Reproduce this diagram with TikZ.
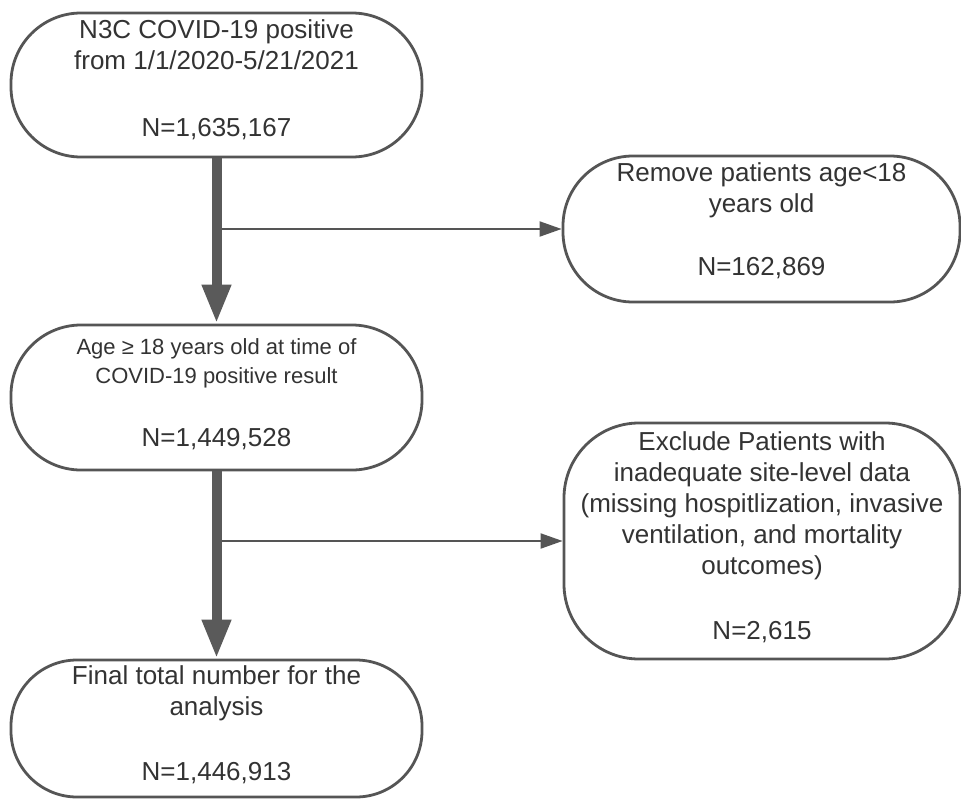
\documentclass[tikz,border=0pt]{standalone}
\usepackage{fontspec}
\setmainfont{Liberation Sans}
\usetikzlibrary{arrows.meta,positioning,calc}
\definecolor{txt}{HTML}{333333}
\definecolor{edge}{HTML}{555555}
\definecolor{flow}{HTML}{5A5A5A}
\begin{document}
\begin{tikzpicture}[x=1pt,y=-1pt,
  box/.style={draw=edge, line width=2.8pt, fill=white, inner sep=0pt},
  boxtext/.style={text=txt, align=center, inner sep=0pt, font=\fontsize{26}{31}\selectfont},
  mainflow/.style={draw=flow, line width=10pt, -{Triangle[length=39pt,width=27pt]}},
  sideflow/.style={draw=edge, line width=2pt, -{Triangle[length=22pt,width=15pt]}}]
\useasboundingbox (0,0) rectangle (961,798);
\fill[white] (0,0) rectangle (961,798);

\node[box, minimum width=411pt, minimum height=144pt, rounded corners=70pt] (b1) at (216.5,85) {};
\node[boxtext] (t1) at (216.5,79.5)
  {N3C COVID-19 positive\\from 1/1/2020-5/21/2021\\[36pt]N=1,635,167};

\node[box, minimum width=397pt, minimum height=146pt, rounded corners=70pt] (b2) at (761.5,229) {};
\node[boxtext] (t2) at (761.5,221)
  {Remove patients age<18\\years old\\[32pt]N=162,869};

\node[box, minimum width=411pt, minimum height=145pt, rounded corners=70pt] (b3) at (216.5,397.5) {};
\node[boxtext, font=\fontsize{22}{29}\selectfont] (t3) at (216.5,394)
  {Age ≥ 18 years old at time of\\COVID-19 positive result\\[34pt]{\fontsize{26}{31}\selectfont N=1,449,528}};

\node[box, minimum width=396pt, minimum height=236pt, rounded corners=75pt] (b4) at (762,541) {};
\node[boxtext] (t4) at (762,537)
  {Exclude Patients with\\inadequate site-level data\\(missing hospitlization, invasive\\ventilation, and mortality\\outcomes)\\[34pt]N=2,615};

\node[box, minimum width=411pt, minimum height=137pt, rounded corners=66pt] (b5) at (216.5,728.5) {};
\node[boxtext] (t5) at (216.5,725)
  {Final total number for the\\analysis\\[34pt]N=1,446,913};

\coordinate (j1) at (b1.south |- b2.west);
\coordinate (j2) at (b1.south |- b4.west);

\draw[sideflow] (j1) -- (b2.west);
\draw[sideflow] (j2) -- (b4.west);
\draw[mainflow] (b1.south) -- (b3.north);
\draw[mainflow] (b3.south) -- (b5.north);
\end{tikzpicture}
\end{document}
